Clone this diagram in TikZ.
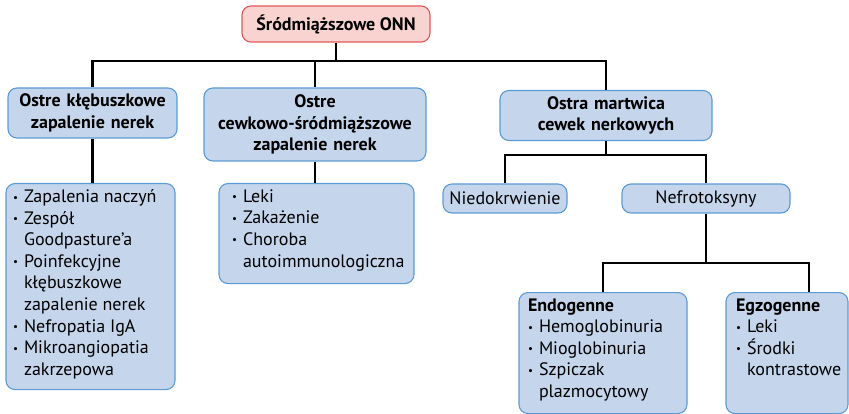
\documentclass[tikz,border=0pt]{standalone}
\usepackage{fontspec}
\setmainfont{PT Sans}
\definecolor{boxblue}{HTML}{C5D6EC}
\definecolor{edgeblue}{HTML}{5B9BD5}
\definecolor{boxpink}{HTML}{F9D3D0}
\definecolor{edgered}{HTML}{E0575B}
\newcommand{\bitem}[1]{\par\hangindent=11pt\hangafter=1\noindent\makebox[11pt][l]{\raisebox{1.5pt}{\fontsize{11}{11}\selectfont\textbullet}}#1}
\newcommand{\listbox}[3]{\begin{minipage}[t][#2][t]{#1}\raggedright#3\end{minipage}}

\begin{document}
\begin{tikzpicture}[x=1pt,y=-1pt]
\tikzstyle{root}=[draw=edgered,fill=boxpink,line width=1.1pt,rounded corners=9pt,minimum width=188pt,minimum height=36pt,font=\fontsize{18}{21.6}\selectfont\bfseries];
\tikzstyle{head}=[draw=edgeblue,fill=boxblue,line width=1.1pt,rounded corners=9pt,align=center,inner xsep=4pt,inner ysep=0pt,font=\fontsize{18}{21.6}\selectfont\bfseries];
\tikzstyle{leaf}=[head,font=\fontsize{18}{21.6}\selectfont];
\tikzstyle{lst}=[draw=edgeblue,fill=boxblue,line width=1.1pt,rounded corners=9pt,anchor=north,inner xsep=8pt,inner ysep=6pt,font=\fontsize{18}{21.6}\selectfont];
\tikzstyle{wire}=[line width=2.6pt];
\useasboundingbox (0,0) rectangle (849,414);
\node [root] (v1) at (336,24) {Śródmiąższowe ONN};
\node [head,text width=161pt,minimum height=50pt] (v2) at (92.5,113) {Ostre kłębuszkowe\\zapalenie nerek};
\node [head,text width=214pt,minimum height=73pt] (v3) at (315,124.5) {Ostre\\cewkowo-śródmiąższowe\\zapalenie nerek};
\node [head,text width=204pt,minimum height=50pt] (v4) at (606,115.5) {Ostra martwica\\cewek nerkowych};
\node [lst,inner xsep=7pt] (v5) at (90.5,183) {\listbox{155pt}{194pt}{%
  \bitem{Zapalenia naczyń}
  \bitem{Zespół\newline Goodpasture’a}
  \bitem{Poinfekcyjne\newline kłębuszkowe\newline zapalenie nerek}
  \bitem{Nefropatia IgA}
  \bitem{Mikroangiopatia\newline zakrzepowa}}};
\node [lst,inner xsep=13pt] (v6) at (316.5,183) {\listbox{169pt}{88pt}{%
  \bitem{Leki}
  \bitem{Zakażenie}
  \bitem{Choroba\newline autoimmunologiczna}}};
\node [leaf,text width=116pt,minimum height=29pt] (v7) at (505,198.5) {Niedokrwienie};
\node [leaf,text width=160pt,minimum height=29pt] (v8) at (706,198.5) {Nefrotoksyny};
\node [lst,inner xsep=9pt] (v9) at (603,292) {\listbox{150pt}{109pt}{%
  \textbf{Endogenne}
  \bitem{Hemoglobinuria}
  \bitem{Mioglobinuria}
  \bitem{Szpiczak\newline plazmocytowy}}};
\node [lst,inner xsep=10pt] (v10) at (787,292) {\listbox{102pt}{109pt}{%
  \textbf{Egzogenne}
  \bitem{Leki}
  \bitem{Środki\newline kontrastowe}}};
\coordinate (b1) at (336,61);
\coordinate (b2) at (606,155);
\coordinate (b3) at (706,263);
\coordinate (b4) at (809,263);
\draw [wire] (v1) -- (b1);
\draw [wire] (v2.north) |- (b1) -| (v4.north);
\draw [wire] (v3.north) -- (v3.north |- b1);
\draw [wire] (v2.south) -- (v2.south |- v5.north);
\draw [wire] (v3.south) -- (v3.south |- v6.north);
\draw [wire] (v4.south) -- (b2);
\draw [wire] (v7.north) |- (b2) -| (v8.north);
\draw [wire] (v8.south) -- (b3);
\draw [wire] (v9.north) |- (b3) -- (b4) -- (b4 |- v10.north);
\end{tikzpicture}
\end{document}
